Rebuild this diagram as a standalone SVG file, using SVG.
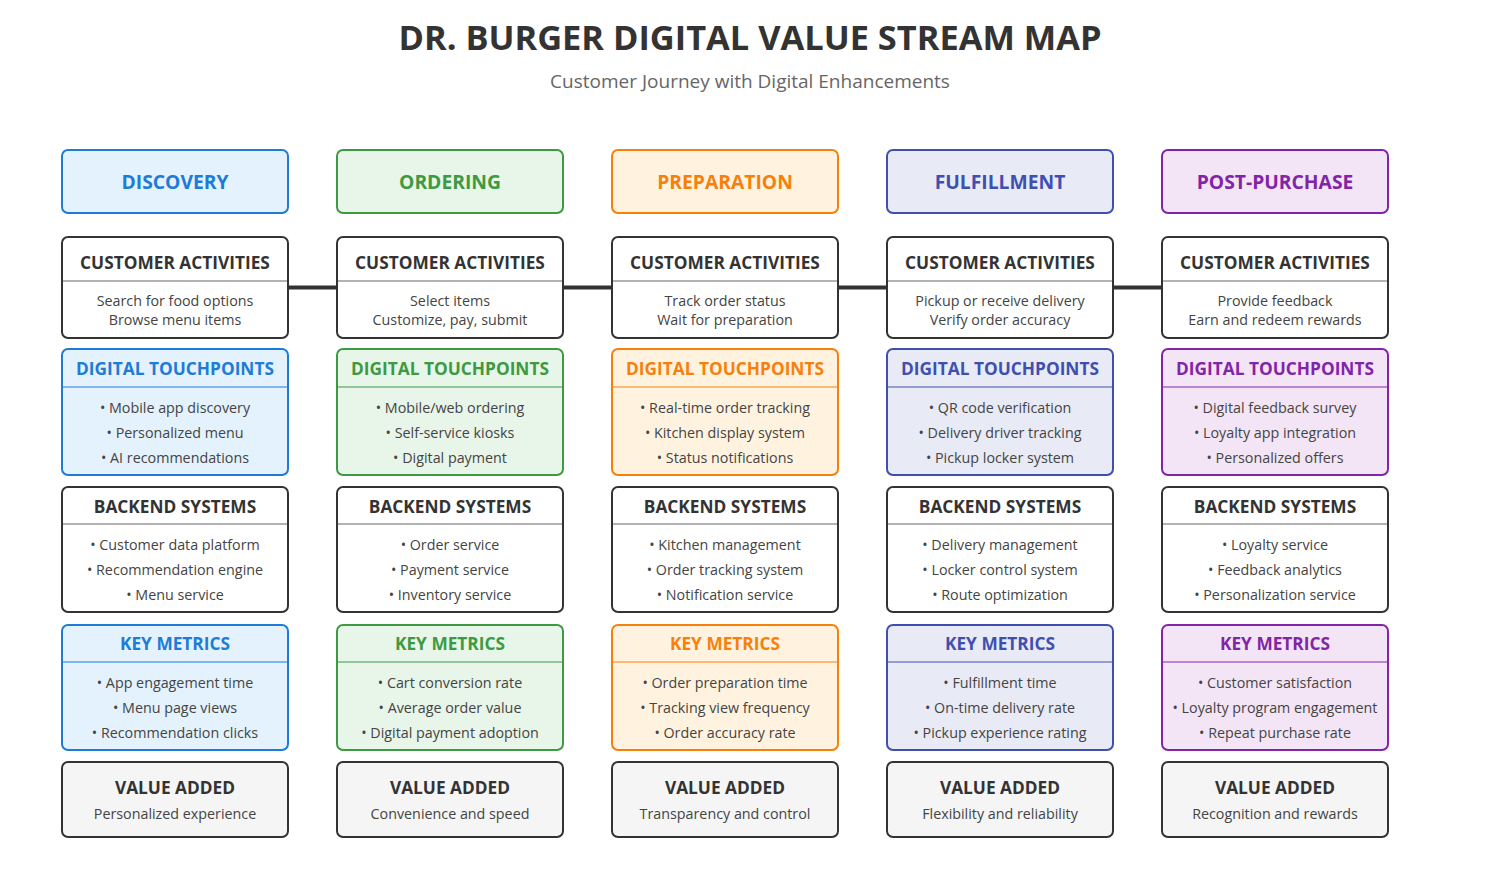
<svg xmlns="http://www.w3.org/2000/svg" width="1500" height="875" viewBox="0 0 1500 875">
<style>
text{font-family:"Open Sans","Noto Sans","Liberation Sans",sans-serif;text-anchor:middle}
.title{font-size:34.4px;font-weight:700;fill:#333}
.sub{font-size:19px;fill:#666}
.ph{font-size:19.3px;font-weight:700}
.sec{font-size:17.3px;font-weight:700;fill:#333}
.it{font-size:14.3px;fill:#444}
.box{stroke-width:2}
.dark{fill:#fff;stroke:#333;stroke-width:2}
.val{fill:#f5f5f5;stroke:#333;stroke-width:2}
.sep{stroke:#666;stroke-width:1}
.conn{stroke:#333;stroke-width:4}
.blue .box{fill:#E3F2FD;stroke:#1E7BD8}.blue .c{fill:#1E7BD8}.blue .s{stroke:#1E7BD8}
.green .box{fill:#E8F5E9;stroke:#3D9A42}.green .c{fill:#3D9A42}.green .s{stroke:#3D9A42}
.orange .box{fill:#FFF3E0;stroke:#F7800A}.orange .c{fill:#F7800A}.orange .s{stroke:#F7800A}
.indigo .box{fill:#E8EAF6;stroke:#3F4FB0}.indigo .c{fill:#3F4FB0}.indigo .s{stroke:#3F4FB0}
.purple .box{fill:#F3E5F5;stroke:#8224A8}.purple .c{fill:#8224A8}.purple .s{stroke:#8224A8}
</style>
<rect width="1500" height="875" fill="#fff"/>
<text class="title" x="750" y="50">DR. BURGER DIGITAL VALUE STREAM MAP</text>
<text class="sub" x="750" y="88">Customer Journey with Digital Enhancements</text>

<g id="connectors">
<line class="conn" x1="288" y1="287.5" x2="337" y2="287.5"/>
<line class="conn" x1="563" y1="287.5" x2="612" y2="287.5"/>
<line class="conn" x1="838" y1="287.5" x2="887" y2="287.5"/>
<line class="conn" x1="1113" y1="287.5" x2="1162" y2="287.5"/>
</g>

<!-- DISCOVERY -->
<g id="discovery" class="blue" transform="translate(62,0)">
<rect class="box" x="0" y="150" width="226" height="63" rx="6"/>
<text class="ph c" x="113" y="189">DISCOVERY</text>
<g id="discovery-activities">
<rect class="dark" x="0" y="237" width="226" height="101" rx="6"/>
<line class="sep" x1="1" y1="281" x2="225" y2="281"/>
<text class="sec" x="113" y="269">CUSTOMER ACTIVITIES</text>
<text class="it" x="113" y="306">Search for food options</text>
<text class="it" x="113" y="325">Browse menu items</text>
</g>
<g id="discovery-touchpoints">
<rect class="box" x="0" y="349" width="226" height="126" rx="6"/>
<line class="s" x1="1" y1="387" x2="225" y2="387"/>
<text class="sec c" x="113" y="375">DIGITAL TOUCHPOINTS</text>
<text class="it" x="113" y="413">• Mobile app discovery</text>
<text class="it" x="113" y="438">• Personalized menu</text>
<text class="it" x="113" y="463">• AI recommendations</text>
</g>
<g id="discovery-backend">
<rect class="dark" x="0" y="487" width="226" height="125" rx="6"/>
<line class="sep" x1="1" y1="524" x2="225" y2="524"/>
<text class="sec" x="113" y="513">BACKEND SYSTEMS</text>
<text class="it" x="113" y="550">• Customer data platform</text>
<text class="it" x="113" y="575">• Recommendation engine</text>
<text class="it" x="113" y="600">• Menu service</text>
</g>
<g id="discovery-metrics">
<rect class="box" x="0" y="625" width="226" height="125" rx="6"/>
<line class="s" x1="1" y1="662" x2="225" y2="662"/>
<text class="sec c" x="113" y="650">KEY METRICS</text>
<text class="it" x="113" y="688">• App engagement time</text>
<text class="it" x="113" y="713">• Menu page views</text>
<text class="it" x="113" y="738">• Recommendation clicks</text>
</g>
<g id="discovery-value">
<rect class="val" x="0" y="762" width="226" height="75" rx="6"/>
<text class="sec" x="113" y="794">VALUE ADDED</text>
<text class="it" x="113" y="819">Personalized experience</text>
</g>
</g>

<!-- ORDERING -->
<g id="ordering" class="green" transform="translate(337,0)">
<rect class="box" x="0" y="150" width="226" height="63" rx="6"/>
<text class="ph c" x="113" y="189">ORDERING</text>
<g id="ordering-activities">
<rect class="dark" x="0" y="237" width="226" height="101" rx="6"/>
<line class="sep" x1="1" y1="281" x2="225" y2="281"/>
<text class="sec" x="113" y="269">CUSTOMER ACTIVITIES</text>
<text class="it" x="113" y="306">Select items</text>
<text class="it" x="113" y="325">Customize, pay, submit</text>
</g>
<g id="ordering-touchpoints">
<rect class="box" x="0" y="349" width="226" height="126" rx="6"/>
<line class="s" x1="1" y1="387" x2="225" y2="387"/>
<text class="sec c" x="113" y="375">DIGITAL TOUCHPOINTS</text>
<text class="it" x="113" y="413">• Mobile/web ordering</text>
<text class="it" x="113" y="438">• Self-service kiosks</text>
<text class="it" x="113" y="463">• Digital payment</text>
</g>
<g id="ordering-backend">
<rect class="dark" x="0" y="487" width="226" height="125" rx="6"/>
<line class="sep" x1="1" y1="524" x2="225" y2="524"/>
<text class="sec" x="113" y="513">BACKEND SYSTEMS</text>
<text class="it" x="113" y="550">• Order service</text>
<text class="it" x="113" y="575">• Payment service</text>
<text class="it" x="113" y="600">• Inventory service</text>
</g>
<g id="ordering-metrics">
<rect class="box" x="0" y="625" width="226" height="125" rx="6"/>
<line class="s" x1="1" y1="662" x2="225" y2="662"/>
<text class="sec c" x="113" y="650">KEY METRICS</text>
<text class="it" x="113" y="688">• Cart conversion rate</text>
<text class="it" x="113" y="713">• Average order value</text>
<text class="it" x="113" y="738">• Digital payment adoption</text>
</g>
<g id="ordering-value">
<rect class="val" x="0" y="762" width="226" height="75" rx="6"/>
<text class="sec" x="113" y="794">VALUE ADDED</text>
<text class="it" x="113" y="819">Convenience and speed</text>
</g>
</g>

<!-- PREPARATION -->
<g id="preparation" class="orange" transform="translate(612,0)">
<rect class="box" x="0" y="150" width="226" height="63" rx="6"/>
<text class="ph c" x="113" y="189">PREPARATION</text>
<g id="preparation-activities">
<rect class="dark" x="0" y="237" width="226" height="101" rx="6"/>
<line class="sep" x1="1" y1="281" x2="225" y2="281"/>
<text class="sec" x="113" y="269">CUSTOMER ACTIVITIES</text>
<text class="it" x="113" y="306">Track order status</text>
<text class="it" x="113" y="325">Wait for preparation</text>
</g>
<g id="preparation-touchpoints">
<rect class="box" x="0" y="349" width="226" height="126" rx="6"/>
<line class="s" x1="1" y1="387" x2="225" y2="387"/>
<text class="sec c" x="113" y="375">DIGITAL TOUCHPOINTS</text>
<text class="it" x="113" y="413">• Real-time order tracking</text>
<text class="it" x="113" y="438">• Kitchen display system</text>
<text class="it" x="113" y="463">• Status notifications</text>
</g>
<g id="preparation-backend">
<rect class="dark" x="0" y="487" width="226" height="125" rx="6"/>
<line class="sep" x1="1" y1="524" x2="225" y2="524"/>
<text class="sec" x="113" y="513">BACKEND SYSTEMS</text>
<text class="it" x="113" y="550">• Kitchen management</text>
<text class="it" x="113" y="575">• Order tracking system</text>
<text class="it" x="113" y="600">• Notification service</text>
</g>
<g id="preparation-metrics">
<rect class="box" x="0" y="625" width="226" height="125" rx="6"/>
<line class="s" x1="1" y1="662" x2="225" y2="662"/>
<text class="sec c" x="113" y="650">KEY METRICS</text>
<text class="it" x="113" y="688">• Order preparation time</text>
<text class="it" x="113" y="713">• Tracking view frequency</text>
<text class="it" x="113" y="738">• Order accuracy rate</text>
</g>
<g id="preparation-value">
<rect class="val" x="0" y="762" width="226" height="75" rx="6"/>
<text class="sec" x="113" y="794">VALUE ADDED</text>
<text class="it" x="113" y="819">Transparency and control</text>
</g>
</g>

<!-- FULFILLMENT -->
<g id="fulfillment" class="indigo" transform="translate(887,0)">
<rect class="box" x="0" y="150" width="226" height="63" rx="6"/>
<text class="ph c" x="113" y="189">FULFILLMENT</text>
<g id="fulfillment-activities">
<rect class="dark" x="0" y="237" width="226" height="101" rx="6"/>
<line class="sep" x1="1" y1="281" x2="225" y2="281"/>
<text class="sec" x="113" y="269">CUSTOMER ACTIVITIES</text>
<text class="it" x="113" y="306">Pickup or receive delivery</text>
<text class="it" x="113" y="325">Verify order accuracy</text>
</g>
<g id="fulfillment-touchpoints">
<rect class="box" x="0" y="349" width="226" height="126" rx="6"/>
<line class="s" x1="1" y1="387" x2="225" y2="387"/>
<text class="sec c" x="113" y="375">DIGITAL TOUCHPOINTS</text>
<text class="it" x="113" y="413">• QR code verification</text>
<text class="it" x="113" y="438">• Delivery driver tracking</text>
<text class="it" x="113" y="463">• Pickup locker system</text>
</g>
<g id="fulfillment-backend">
<rect class="dark" x="0" y="487" width="226" height="125" rx="6"/>
<line class="sep" x1="1" y1="524" x2="225" y2="524"/>
<text class="sec" x="113" y="513">BACKEND SYSTEMS</text>
<text class="it" x="113" y="550">• Delivery management</text>
<text class="it" x="113" y="575">• Locker control system</text>
<text class="it" x="113" y="600">• Route optimization</text>
</g>
<g id="fulfillment-metrics">
<rect class="box" x="0" y="625" width="226" height="125" rx="6"/>
<line class="s" x1="1" y1="662" x2="225" y2="662"/>
<text class="sec c" x="113" y="650">KEY METRICS</text>
<text class="it" x="113" y="688">• Fulfillment time</text>
<text class="it" x="113" y="713">• On-time delivery rate</text>
<text class="it" x="113" y="738">• Pickup experience rating</text>
</g>
<g id="fulfillment-value">
<rect class="val" x="0" y="762" width="226" height="75" rx="6"/>
<text class="sec" x="113" y="794">VALUE ADDED</text>
<text class="it" x="113" y="819">Flexibility and reliability</text>
</g>
</g>

<!-- POST-PURCHASE -->
<g id="post-purchase" class="purple" transform="translate(1162,0)">
<rect class="box" x="0" y="150" width="226" height="63" rx="6"/>
<text class="ph c" x="113" y="189">POST-PURCHASE</text>
<g id="post-purchase-activities">
<rect class="dark" x="0" y="237" width="226" height="101" rx="6"/>
<line class="sep" x1="1" y1="281" x2="225" y2="281"/>
<text class="sec" x="113" y="269">CUSTOMER ACTIVITIES</text>
<text class="it" x="113" y="306">Provide feedback</text>
<text class="it" x="113" y="325">Earn and redeem rewards</text>
</g>
<g id="post-purchase-touchpoints">
<rect class="box" x="0" y="349" width="226" height="126" rx="6"/>
<line class="s" x1="1" y1="387" x2="225" y2="387"/>
<text class="sec c" x="113" y="375">DIGITAL TOUCHPOINTS</text>
<text class="it" x="113" y="413">• Digital feedback survey</text>
<text class="it" x="113" y="438">• Loyalty app integration</text>
<text class="it" x="113" y="463">• Personalized offers</text>
</g>
<g id="post-purchase-backend">
<rect class="dark" x="0" y="487" width="226" height="125" rx="6"/>
<line class="sep" x1="1" y1="524" x2="225" y2="524"/>
<text class="sec" x="113" y="513">BACKEND SYSTEMS</text>
<text class="it" x="113" y="550">• Loyalty service</text>
<text class="it" x="113" y="575">• Feedback analytics</text>
<text class="it" x="113" y="600">• Personalization service</text>
</g>
<g id="post-purchase-metrics">
<rect class="box" x="0" y="625" width="226" height="125" rx="6"/>
<line class="s" x1="1" y1="662" x2="225" y2="662"/>
<text class="sec c" x="113" y="650">KEY METRICS</text>
<text class="it" x="113" y="688">• Customer satisfaction</text>
<text class="it" x="113" y="713">• Loyalty program engagement</text>
<text class="it" x="113" y="738">• Repeat purchase rate</text>
</g>
<g id="post-purchase-value">
<rect class="val" x="0" y="762" width="226" height="75" rx="6"/>
<text class="sec" x="113" y="794">VALUE ADDED</text>
<text class="it" x="113" y="819">Recognition and rewards</text>
</g>
</g>
</svg>
